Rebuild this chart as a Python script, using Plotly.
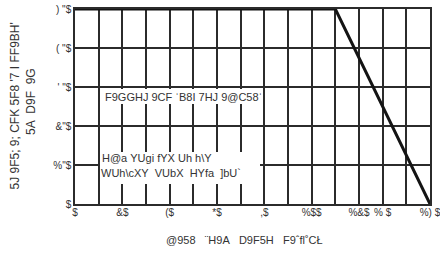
import plotly.graph_objects as go

# Data (derating curve)
lead_temp = [0, 110, 150]
avg_current = [5.0, 5.0, 0.0]

x_tickvals = [0, 20, 40, 60, 80, 100, 120, 130, 150]
x_ticktext = ["$", "&$", "($", "*$", ",$", "%$$", "%&$", "% $", "%) $"]
y_tickvals = [0, 1, 2, 3, 4, 5]
y_ticktext = ["$", "%\"$", "&\"$", "' \"$", "( \"$", ") \"$"]

NB = "\u00a0"
x_title = (NB * 3).join(["@958", "¨H9A", "D9F5H", "F9ˆfl˚CŁ"])
y_title_1 = NB.join(["5J", "9F5;", "9;", "CFK", "5F8", "'7", "I", "FF9BH'"])
y_title_2 = (NB * 2).join(["5A", "D9F", "9G"])
note1 = NB.join(["F9GGHJ", "9CF", "ˈB8I", "7HJ", "9@C58ˈ"])
note2_a = NB.join(["H@a", "YUgi", "fYX", "Uh", "h\\Y"])
note2_b = (NB * 2).join(["WUh\\cXY", "VUbX", "HYfa", "]bU`"])

grid_color = "#2b2b2b"
text_color = "#333333"
font_family = "Liberation Sans, Arial, sans-serif"
narrow_family = "Liberation Sans Narrow, Arial Narrow, Liberation Sans, sans-serif"

# plot area in pixels: x 75..430, y 9..204
PL, PR, PT, PB = 75, 430, 9, 204
def px(x):
    return (x - PL) / (PR - PL)
def py(y):
    return (PB - y) / (PB - PT)

fig = go.Figure()
fig.add_trace(go.Scatter(
    x=lead_temp, y=avg_current, mode="lines",
    line=dict(color="#141414", width=3),
    hoverinfo="skip", showlegend=False, cliponaxis=False,
))

# white label boxes over the grid
for (x0, x1, y0, y1) in [(100, 262, 89, 104), (100, 260, 152, 184)]:
    fig.add_shape(type="rect", xref="paper", yref="paper",
                  x0=px(x0), x1=px(x1), y0=py(y1), y1=py(y0),
                  fillcolor="white", line=dict(width=0), layer="above")

def label(text, x, y, size=11, anchor="left", angle=0, family=font_family):
    fig.add_annotation(x=px(x), y=py(y), xref="paper", yref="paper",
                       xanchor=anchor, yanchor="middle", text=text,
                       showarrow=False, textangle=angle, borderpad=0,
                       font=dict(family=family, size=size, color=text_color))

label(note1, 104, 97, size=11)
label(note2_a, 101, 158, size=11)
label(note2_b, 100, 173, size=11)
label(x_title, 244, 240, size=11, anchor="center")
label(y_title_1, 14, 106.5, size=12, anchor="center", angle=-90, family=narrow_family)
label(y_title_2, 31, 102, size=12, anchor="center", angle=-90, family=narrow_family)

fig.update_layout(
    width=440, height=258,
    margin=dict(l=PL, r=440 - PR, t=PT, b=258 - PB, autoexpand=False),
    paper_bgcolor="white", plot_bgcolor="white",
    font=dict(family=font_family, size=10, color=text_color),
    xaxis=dict(
        range=[0, 150], tickvals=x_tickvals, ticktext=x_ticktext,
        showgrid=True, gridcolor=grid_color, gridwidth=1.5,
        minor=dict(dtick=10, showgrid=True, gridcolor=grid_color, gridwidth=1.5),
        showline=True, linecolor=grid_color, linewidth=1.5, mirror=True,
        zeroline=False, ticks="", tickfont=dict(size=10),
        automargin=False, ticklabeloverflow="allow", ticklabelstandoff=-2,
    ),
    yaxis=dict(
        range=[0, 5], tickvals=y_tickvals, ticktext=y_ticktext,
        showgrid=True, gridcolor=grid_color, gridwidth=1.5,
        showline=True, linecolor=grid_color, linewidth=1.5, mirror=True,
        zeroline=False, ticks="", tickfont=dict(size=10),
        automargin=False, ticklabeloverflow="allow",
    ),
)

fig.write_html(
    "out.html",
    config={"displayModeBar": False},
    post_script="document.body.style.margin='0';document.body.style.overflow='hidden';",
)
